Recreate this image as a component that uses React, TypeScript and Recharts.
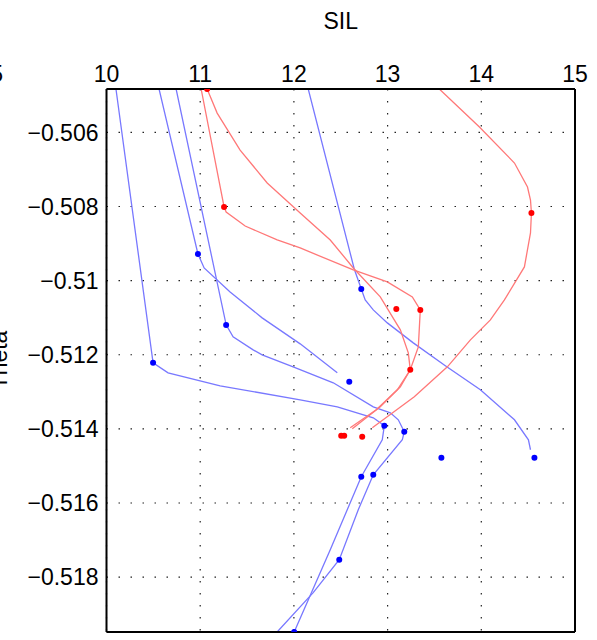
import React from 'react';
import { ComposedChart, Line, Scatter, XAxis, YAxis, CartesianGrid } from 'recharts';

// axis setup
const xTicks = [10, 11, 12, 13, 14, 15];
const yTicks = [-0.518, -0.516, -0.514, -0.512, -0.51, -0.508, -0.506];
const xDomain = [10, 15];
const yDomain = [-0.51948, -0.50483];

// blue trajectories
const blue1 = [
  { x: 10.101, y: -0.50483 }, { x: 10.497, y: -0.512218 }, { x: 10.657, y: -0.512488 },
  { x: 11.213, y: -0.512838 }, { x: 12.067, y: -0.513216 }, { x: 12.463, y: -0.513404 },
  { x: 12.847, y: -0.513701 }, { x: 12.922, y: -0.513836 }, { x: 12.965, y: -0.513916 },
  { x: 12.943, y: -0.514294 }, { x: 12.719, y: -0.515291 }, { x: 12.388, y: -0.517259 },
  { x: 12.003, y: -0.51948 },
];
const blue2 = [
  { x: 10.561, y: -0.50483 }, { x: 10.976, y: -0.50928 }, { x: 11.042, y: -0.509658 },
  { x: 11.319, y: -0.510305 }, { x: 11.661, y: -0.511005 }, { x: 12.067, y: -0.511706 },
  { x: 12.463, y: -0.512488 },
];
const blue3 = [
  { x: 10.743, y: -0.50483 }, { x: 11.277, y: -0.511194 }, { x: 11.351, y: -0.511518 },
  { x: 11.565, y: -0.511868 }, { x: 11.661, y: -0.512003 }, { x: 11.992, y: -0.512326 },
  { x: 12.42, y: -0.512757 }, { x: 12.847, y: -0.513404 }, { x: 13.029, y: -0.513566 },
  { x: 13.114, y: -0.513755 }, { x: 13.178, y: -0.514078 }, { x: 13.157, y: -0.514294 },
  { x: 12.847, y: -0.515237 }, { x: 12.687, y: -0.516181 }, { x: 12.484, y: -0.517528 },
  { x: 12.206, y: -0.518418 }, { x: 11.821, y: -0.51948 },
];
const blue4 = [
  { x: 12.153, y: -0.50483 }, { x: 12.644, y: -0.509685 }, { x: 12.719, y: -0.510224 },
  { x: 12.761, y: -0.51052 }, { x: 12.847, y: -0.51079 }, { x: 12.997, y: -0.51114 },
  { x: 13.274, y: -0.511679 }, { x: 13.616, y: -0.512299 }, { x: 13.99, y: -0.512946 },
  { x: 14.354, y: -0.513755 }, { x: 14.503, y: -0.514294 }, { x: 14.525, y: -0.514563 },
];

// red trajectories
const red1 = [
  { x: 11.01, y: -0.50483 }, { x: 11.255, y: -0.508013 }, { x: 11.277, y: -0.508148 },
  { x: 11.48, y: -0.508526 }, { x: 11.822, y: -0.508903 }, { x: 12.067, y: -0.509119 },
  { x: 12.634, y: -0.509712 }, { x: 12.997, y: -0.510035 }, { x: 13.264, y: -0.510439 },
  { x: 13.349, y: -0.51079 }, { x: 13.328, y: -0.511787 }, { x: 13.242, y: -0.512407 },
  { x: 13.136, y: -0.512865 }, { x: 12.922, y: -0.513404 }, { x: 12.623, y: -0.513997 },
];
const red2 = [
  { x: 11.074, y: -0.50483 }, { x: 11.181, y: -0.50548 }, { x: 11.426, y: -0.506477 },
  { x: 11.715, y: -0.507367 }, { x: 12.067, y: -0.508175 }, { x: 12.388, y: -0.508903 },
  { x: 12.634, y: -0.509658 }, { x: 12.922, y: -0.510439 }, { x: 13.136, y: -0.511329 },
  { x: 13.221, y: -0.511949 }, { x: 13.242, y: -0.512407 }, { x: 13.104, y: -0.512946 },
  { x: 12.879, y: -0.513485 }, { x: 12.601, y: -0.51397 },
];
const red3 = [
  { x: 13.552, y: -0.50483 }, { x: 13.98, y: -0.505857 }, { x: 14.354, y: -0.506827 },
  { x: 14.493, y: -0.507474 }, { x: 14.525, y: -0.507825 }, { x: 14.535, y: -0.508175 },
  { x: 14.525, y: -0.508714 }, { x: 14.46, y: -0.509631 }, { x: 14.247, y: -0.51052 },
  { x: 14.097, y: -0.511059 }, { x: 13.884, y: -0.511598 }, { x: 13.638, y: -0.512326 },
  { x: 13.285, y: -0.513135 }, { x: 12.837, y: -0.51397 },
];

// markers
const bluePoints = [
  { x: 10.976, y: -0.50928 }, { x: 10.497, y: -0.512218 }, { x: 11.277, y: -0.511194 },
  { x: 12.719, y: -0.510224 }, { x: 12.591, y: -0.51273 }, { x: 12.965, y: -0.513916 },
  { x: 13.178, y: -0.514078 }, { x: 12.719, y: -0.515291 }, { x: 12.847, y: -0.515237 },
  { x: 13.574, y: -0.514779 }, { x: 14.567, y: -0.514779 }, { x: 12.484, y: -0.517528 },
  { x: 12.003, y: -0.51948 },
];
const redPoints = [
  { x: 11.074, y: -0.50483 }, { x: 11.255, y: -0.508013 }, { x: 14.535, y: -0.508175 },
  { x: 13.093, y: -0.510763 }, { x: 13.349, y: -0.51079 }, { x: 13.242, y: -0.512407 },
  { x: 12.505, y: -0.514186 }, { x: 12.537, y: -0.514186 }, { x: 12.729, y: -0.514213 },
];

const blueLines = [blue1, blue2, blue3, blue4];
const redLines = [red1, red2, red3];

const fmtY = (v: number) => (v < 0 ? '\u2212' : '') + String(Math.abs(v));

const font = { fontSize: 23, fill: '#000' };
const frame = { stroke: '#000', strokeWidth: 2 };
const inTick = { stroke: '#000', strokeWidth: 1 };

const sideLabels = () => (
  <g fontSize={23} fill="#000">
    <text x={7} y={360} transform="rotate(-90 7 360)" textAnchor="middle">Theta</text>
    <text x={3} y={82} textAnchor="end">5</text>
  </g>
);

const App = () => {
  return (
    <div style={{ position: 'absolute', left: 0, top: 0, fontFamily: '"Liberation Sans", Arial, sans-serif', background: '#fff' }}>
      <ComposedChart width={597} height={640} margin={{ top: 0, right: 22, bottom: 8, left: 0 }}>
        <CartesianGrid stroke="#222" strokeWidth={1.2} strokeDasharray="1.5 10.5" />
        <XAxis
          type="number" dataKey="x" orientation="top" domain={xDomain} ticks={xTicks}
          height={89} allowDataOverflow axisLine={frame} tickLine={false} tickSize={5}
          tick={font}
          label={{ value: 'SIL', position: 'insideTop', offset: 13, fill: '#000', fontSize: 23 }}
        />
        <YAxis
          type="number" dataKey="y" domain={yDomain} ticks={yTicks} width={106.5}
          allowDataOverflow axisLine={frame} tickLine={false} tick={font}
          tickFormatter={fmtY} label={sideLabels}
        />
        <XAxis xAxisId="topIn" type="number" orientation="top" mirror domain={xDomain} ticks={xTicks}
          height={1} allowDataOverflow axisLine={false} tick={false} tickSize={6} tickLine={inTick} />
        <XAxis xAxisId="bottomIn" type="number" orientation="bottom" mirror domain={xDomain} ticks={xTicks}
          height={1} allowDataOverflow axisLine={frame} tick={false} tickSize={6} tickLine={inTick} />
        <YAxis yAxisId="leftIn" type="number" orientation="left" mirror domain={yDomain} ticks={yTicks}
          width={1} allowDataOverflow axisLine={false} tick={false} tickSize={6} tickLine={inTick} />
        <YAxis yAxisId="rightIn" type="number" orientation="right" mirror domain={yDomain} ticks={yTicks}
          width={1} allowDataOverflow axisLine={frame} tick={false} tickSize={6} tickLine={inTick} />

        {blueLines.map((d, i) => (
          <Line key={`b${i}`} data={d} dataKey="y" type="linear" stroke="#7878ff" strokeWidth={1.3}
            dot={false} activeDot={false} isAnimationActive={false} />
        ))}
        {redLines.map((d, i) => (
          <Line key={`r${i}`} data={d} dataKey="y" type="linear" stroke="#ff7878" strokeWidth={1.3}
            dot={false} activeDot={false} isAnimationActive={false} />
        ))}
        <Scatter data={bluePoints} dataKey="y" isAnimationActive={false}
          shape={(p: any) => <circle cx={p.cx} cy={p.cy} r={3} fill="#0000ff" />} />
        <Scatter data={redPoints} dataKey="y" isAnimationActive={false}
          shape={(p: any) => <circle cx={p.cx} cy={p.cy} r={3} fill="#ff0000" />} />
      </ComposedChart>
    </div>
  );
};

export default App;
